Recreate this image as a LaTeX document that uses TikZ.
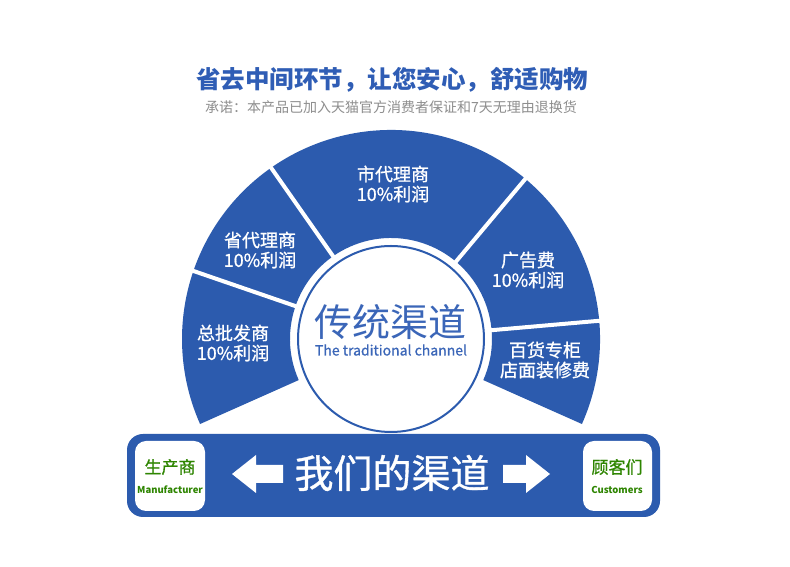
\documentclass[tikz,border=0pt]{standalone}
\usepackage{fontspec}
\setmainfont{Noto Sans CJK SC}
\newfontfamily\semib{Noto Sans CJK SC}[FakeBold=0.9]
\definecolor{fanblue}{HTML}{2C5BAE}
\definecolor{titleblue}{HTML}{2F5DB5}
\definecolor{centerblue}{HTML}{3B66B8}
\definecolor{subgray}{HTML}{8E8E8E}
\definecolor{mkgreen}{HTML}{2E8500}
\tikzset{
  seglabel/.style={text=white, align=center, font=\fontsize{18}{20}\selectfont\semib, inner sep=0pt},
  divider/.style={white, line width=4pt},
  whitebox/.style={fill=white, rounded corners=11pt},
  boxcn/.style={text=mkgreen, font=\fontsize{17}{20}\selectfont\semib, inner sep=0pt},
  boxen/.style={text=mkgreen, font=\fontsize{9.5}{11}\selectfont\bfseries, inner sep=0pt},
  bigarrow/.style={fill=white},
}
\begin{document}
\begin{tikzpicture}[x=1pt,y=1pt]
\fill[white] (0,0) rectangle (790,567);
\useasboundingbox (0,0) rectangle (790,567);
% titles
\node[text=titleblue, font=\fontsize{24.5}{27}\selectfont\bfseries, inner sep=0pt] (title) at (392,487) {省去中间环节，让您安心，舒适购物};
\node[text=subgray, font=\fontsize{14}{16}\selectfont, inner sep=0pt] (sub) at (391,460) {承诺：本产品已加入天猫官方消费者保证和7天无理由退换货};
% fan
\coordinate (C) at (391,228);
\fill[fanblue, shift={(C)}] (-24:209) arc[start angle=-24, end angle=204, radius=209]
  -- (204:101) arc[start angle=204, end angle=-24, radius=101] -- cycle;
\foreach \a in {5,50,125,161}{
  \draw[divider, shift={(C)}] (\a:95) -- (\a:215);
}
\node[circle, draw=fanblue, line width=2pt, fill=white, minimum size=186pt, inner sep=0pt] (core) at (C) {};
\node[text=centerblue, font=\fontsize{38}{40}\selectfont, inner sep=0pt] (trad) at (390,245) {传统渠道};
\node[text=centerblue, font=\fontsize{14}{15}\selectfont\semib, inner sep=0pt] (tradEn) at (391,217) {The traditional channel};
% segment labels
\node[seglabel] (s1) at (393,383) {市代理商\\10\%利润};
\node[seglabel] (s2) at (260,317) {省代理商\\10\%利润};
\node[seglabel] (s3) at (233,224) {总批发商\\10\%利润};
\node[seglabel] (s4) at (528,297) {广告费\\10\%利润};
\node[seglabel] (s5) at (545,207) {百货专柜\\店面装修费};
% bottom bar
\fill[fanblue, rounded corners=16pt] (127,50) rectangle (660,133);
\fill[whitebox] (135,56) rectangle (205,126);
\fill[whitebox] (583,56) rectangle (652,126);
\node[boxcn] (mcn) at (170,100) {生产商};
\node[boxen] (men) at (170,77) {Manufacturer};
\node[boxcn] (ccn) at (617,100) {顾客们};
\node[boxen] (cen) at (617,77) {Customers};
\node[text=white, font=\fontsize{39}{41}\selectfont\semib, inner sep=0pt] (ours) at (392,94) {我们的渠道};
\fill[bigarrow] (232,93) -- (256,112) -- (256,102) -- (283,102) -- (283,84) -- (256,84) -- (256,74) -- cycle;
\fill[bigarrow] (550,93) -- (526,112) -- (526,102) -- (503,102) -- (503,84) -- (526,84) -- (526,74) -- cycle;
\end{tikzpicture}
\end{document}
